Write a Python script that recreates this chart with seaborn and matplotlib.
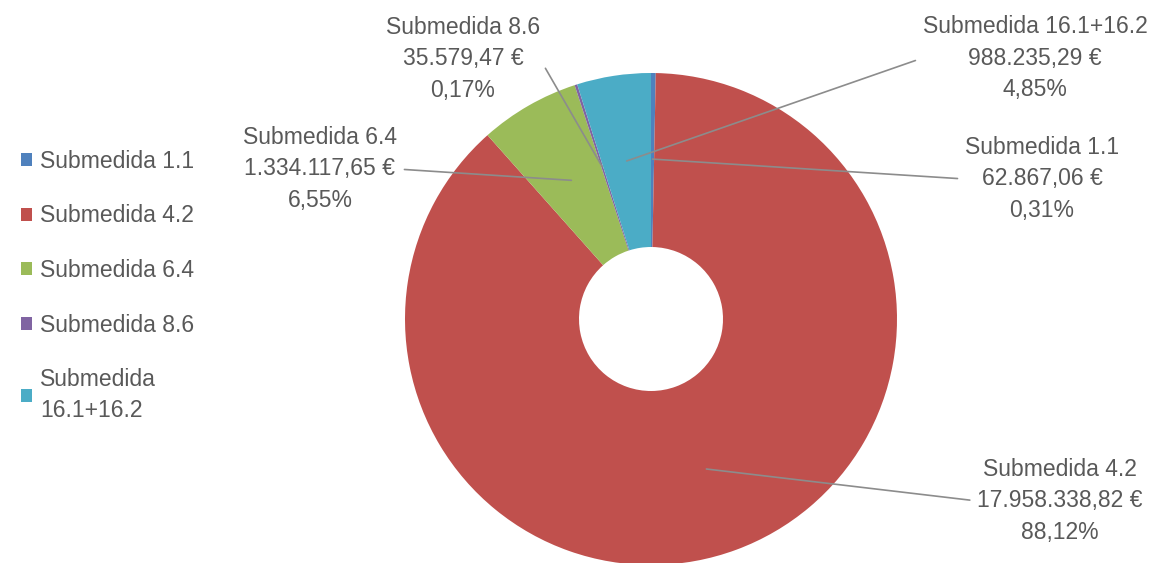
import numpy as np
import matplotlib.pyplot as plt
import seaborn as sns

# datos
categorias = ['Submedida 1.1', 'Submedida 4.2', 'Submedida 6.4', 'Submedida 8.6', 'Submedida 16.1+16.2']
leyenda = ['Submedida 1.1', 'Submedida 4.2', 'Submedida 6.4', 'Submedida 8.6', 'Submedida\n16.1+16.2']
importes = [62867.06, 17958338.82, 1334117.65, 35579.47, 988235.29]
importes_txt = ['62.867,06 €', '17.958.338,82 €', '1.334.117,65 €', '35.579,47 €', '988.235,29 €']
porcentajes_txt = ['0,31%', '88,12%', '6,55%', '0,17%', '4,85%']

colores = sns.color_palette(['#4F81BD', '#C0504D', '#9BBB59', '#8064A2', '#4BACC6'])

sns.set_theme(style='white')
plt.rcParams['font.family'] = ['Liberation Sans', 'DejaVu Sans']

W, H = 1158, 563
fig = plt.figure(figsize=(W / 100, H / 100), dpi=100)
ax = fig.add_axes([0, 0, 1, 1])

# el donut en coordenadas de pixel (y hacia arriba)
cx, cy, R = 651, H - 319, 246
wedges, _ = ax.pie(importes, colors=colores, startangle=90, counterclock=False,
                   radius=R, center=(cx, cy),
                   wedgeprops=dict(width=174, linewidth=0))
ax.set_xlim(0, W)
ax.set_ylim(0, H)
ax.axis('off')

# posiciones de las etiquetas (pixeles de la imagen)
pos_etiquetas = [(1042, 179), (1060, 501), (320, 169), (463, 59), (1035, 58)]
gris = '#595959'
fs = 16.5

total = sum(importes)
acum = 0
for i, v in enumerate(importes):
    medio = (acum + v / 2) / total
    acum += v
    ang = np.deg2rad(90 - 360 * medio)
    r = 0.65 * R
    px, py = cx + r * np.cos(ang), cy + r * np.sin(ang)
    tx, ty = pos_etiquetas[i]
    texto = f'{categorias[i]}\n{importes_txt[i]}\n{porcentajes_txt[i]}'
    lado = 1 if tx < cx else 0
    ax.annotate(texto, xy=(px, py), xytext=(tx, H - ty), ha='center', va='center',
                fontsize=fs, color=gris, linespacing=1.45,
                arrowprops=dict(arrowstyle='-', color='#8c8c8c', lw=1.2,
                                shrinkA=3, shrinkB=0, relpos=(lado, 0.5)))

leg = ax.legend(wedges, leyenda, loc='upper left', bbox_to_anchor=(0 / W, 1 - 129 / H),
                bbox_transform=fig.transFigure, frameon=False, fontsize=fs,
                labelcolor=gris, handlelength=0.5, handleheight=0.5, handletextpad=0.35,
                labelspacing=1.38)
for t in leg.get_texts():
    t.set_linespacing(1.42)

fig.savefig('out.png', dpi=100)
